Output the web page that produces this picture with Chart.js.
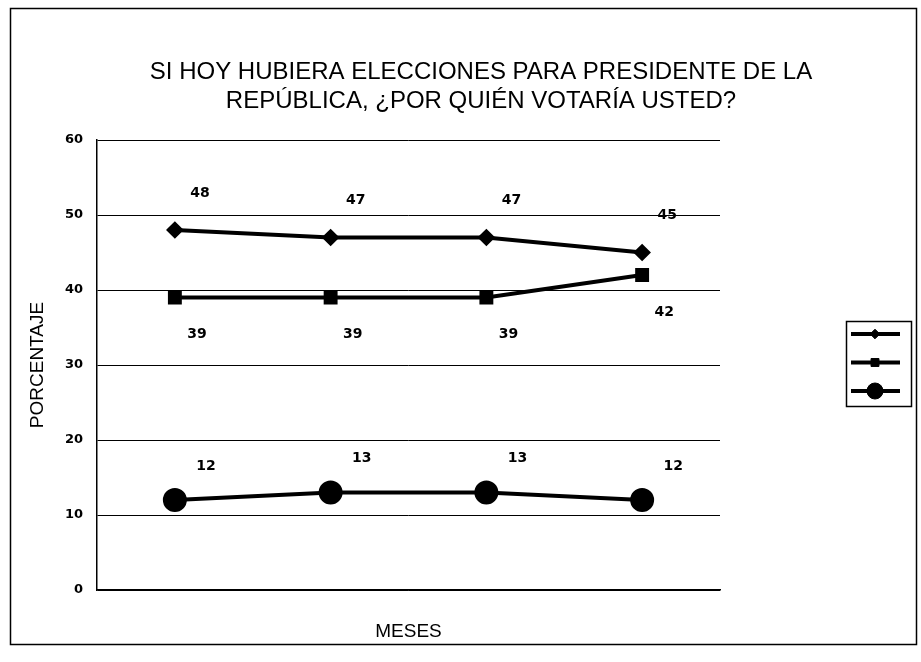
<!DOCTYPE html>
<html>
<head>
<meta charset="utf-8">
<script src="https://cdn.jsdelivr.net/npm/chart.js@4.4.1/dist/chart.umd.min.js"></script>
<style>
html, body { margin: 0; padding: 0; background: #fff; }
canvas { display: block; }
</style>
</head>
<body>
<canvas id="grafico" width="921" height="662"></canvas>
<script>
// ===============================
// Datos
// ===============================

const meses = ["Mes 1", "Mes 2", "Mes 3", "Mes 4"];
const serie1 = [48, 47, 47, 45];
const serie2 = [39, 39, 39, 42];
const serie3 = [12, 13, 13, 12];

const tituloLineas = [
    "SI HOY HUBIERA ELECCIONES PARA PRESIDENTE DE LA",
    "REPÚBLICA, ¿POR QUIÉN VOTARÍA USTED?"
];
const ejeYMin = 0;
const ejeYMax = 60;
const ejeYPaso = 10;

// desplazamiento de las etiquetas de valor respecto al punto
const offsetsEtiquetas = [
    { x: 25, y: -37 },
    { x: 22, y: 37 },
    { x: 31, y: -34 }
];

const fuenteArial = '"Liberation Sans", Arial, sans-serif';
const fuenteVerdana = '"DejaVu Sans", Verdana, sans-serif';

// ===============================
// Plugins
// ===============================

const fondoYMarco = {
    id: "fondoYMarco",
    beforeDraw(chart) {
        const ctx = chart.ctx;
        ctx.save();
        ctx.fillStyle = "#fff";
        ctx.fillRect(0, 0, chart.width, chart.height);
        ctx.restore();
    },
    afterDraw(chart) {
        const ctx = chart.ctx;
        ctx.save();

        // marco exterior
        ctx.strokeStyle = "#000";
        ctx.lineWidth = 1.5;
        ctx.strokeRect(10.5, 8.5, 906, 636);

        // titulo
        ctx.fillStyle = "#000";
        ctx.font = "24px " + fuenteArial;
        ctx.textAlign = "center";
        ctx.textBaseline = "middle";
        tituloLineas.forEach((t, i) => ctx.fillText(t, 481, 72 + i * 29));

        // leyenda (sin texto, solo muestras de linea)
        ctx.lineWidth = 1.5;
        ctx.strokeRect(846.5, 321.5, 65, 85);
        chart.data.datasets.forEach((ds, i) => {
            const y = 334 + i * 28.5;
            ctx.strokeStyle = ds.borderColor;
            ctx.lineWidth = 4;
            ctx.beginPath();
            ctx.moveTo(851, y);
            ctx.lineTo(900, y);
            ctx.stroke();
            ctx.fillStyle = ds.pointBackgroundColor;
            ctx.strokeStyle = ds.pointBorderColor;
            ctx.lineWidth = 1;
            Chart.helpers.drawPoint(ctx, {
                pointStyle: ds.pointStyle,
                radius: ds.pointRadius * 0.8,
                rotation: 0,
                borderWidth: 1
            }, 875, y);
        });

        ctx.restore();
    }
};

const etiquetasValor = {
    id: "etiquetasValor",
    afterDatasetsDraw(chart) {
        const ctx = chart.ctx;
        ctx.save();
        ctx.fillStyle = "#000";
        ctx.font = "bold 14px " + fuenteVerdana;
        ctx.textAlign = "center";
        ctx.textBaseline = "middle";
        chart.data.datasets.forEach((ds, i) => {
            const meta = chart.getDatasetMeta(i);
            const off = offsetsEtiquetas[i];
            meta.data.forEach((pt, j) => {
                ctx.fillText(ds.data[j], pt.x + off.x, pt.y + off.y);
            });
        });
        ctx.restore();
    }
};

// ===============================
// Grafico
// ===============================

const ctx = document.getElementById("grafico");

const chart = new Chart(ctx, {
    type: "line",
    data: {
        labels: meses,
        datasets: [{
            label: "Serie 1",
            data: serie1,
            borderColor: "#000",
            borderWidth: 4,
            pointStyle: "rectRot",
            pointRadius: 6,
            pointBackgroundColor: "#000",
            pointBorderColor: "#000",
            tension: 0
        }, {
            label: "Serie 2",
            data: serie2,
            borderColor: "#000",
            borderWidth: 4,
            pointStyle: "rect",
            pointRadius: 7,
            pointBackgroundColor: "#000",
            pointBorderColor: "#000",
            tension: 0
        }, {
            label: "Serie 3",
            data: serie3,
            borderColor: "#000",
            borderWidth: 4,
            pointStyle: "circle",
            pointRadius: 10,
            pointBackgroundColor: "#000",
            pointBorderColor: "#000",
            tension: 0
        }]
    },
    options: {
        responsive: false,
        animation: false,
        events: [],
        layout: {
            padding: { top: 140, right: 201, bottom: 0, left: 0 }
        },
        plugins: {
            legend: { display: false },
            title: { display: false },
            tooltip: { enabled: false }
        },
        scales: {
            x: {
                offset: true,
                grid: { display: false },
                border: { display: true, color: "#000", width: 1.5 },
                ticks: { display: false },
                title: {
                    display: true,
                    text: "MESES",
                    color: "#000",
                    font: { family: fuenteArial, size: 19 },
                    padding: { top: 0, bottom: 19 }
                },
                afterFit(scale) { scale.height = 72; }
            },
            y: {
                min: ejeYMin,
                max: ejeYMax,
                ticks: {
                    stepSize: ejeYPaso,
                    color: "#000",
                    padding: 14,
                    font: { family: fuenteVerdana, size: 13, weight: "bold" }
                },
                grid: {
                    color: "#000",
                    lineWidth: 1,
                    drawTicks: false
                },
                border: { display: true, color: "#000", width: 1.5 },
                title: {
                    display: true,
                    text: "PORCENTAJE",
                    color: "#000",
                    font: { family: fuenteArial, size: 19 },
                    padding: { top: 26, bottom: 0 }
                },
                afterFit(scale) { scale.width = 97; }
            }
        }
    },
    plugins: [fondoYMarco, etiquetasValor]
});
</script>
</body>
</html>
